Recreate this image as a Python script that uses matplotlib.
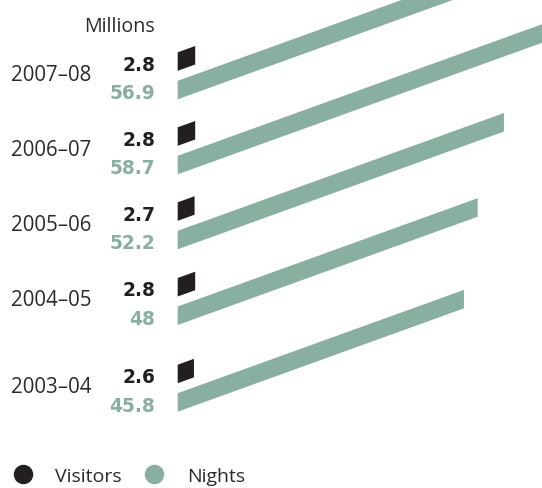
import matplotlib.pyplot as plt
from matplotlib.transforms import Affine2D

# tourism figures, newest year first
years = ['2007–08', '2006–07', '2005–06', '2004–05', '2003–04']
visitors = [2.8, 2.8, 2.7, 2.8, 2.6]
nights = [56.9, 58.7, 52.2, 48, 45.8]

dark = '#231f20'
green = '#88afa0'
grey = '#2a2a2a'

W, H = 542, 488
fig = plt.figure(figsize=(W / 100, H / 100), dpi=100)
ax = fig.add_axes([0, 0, 1, 1])
ax.set_xlim(0, W)
ax.set_ylim(H, 0)
ax.axis('off')

# bars are drawn in value units, then scaled and sheared so they rise to the right
x0 = 177.7        # where every bar starts
px = 6.25         # pixels per million
rise = 0.361      # slope of the slanted edges
shear = Affine2D.from_values(px, -rise * px, 0, 1, x0, 0) + ax.transData

# bottom edge (at the start) of each nights bar
base = [99.3, 174.3, 249.3, 325.0, 411.7]
thick = 18.5
gap = 10

n_centres = [b - thick / 2 for b in base]
v_centres = [b - thick - gap - thick / 2 for b in base]

for bars in (ax.barh(n_centres, nights, height=thick, left=0, color=green),
             ax.barh(v_centres, visitors, height=thick, left=0, color=dark)):
    for p in bars:
        p.set_transform(shear)
        p.set_clip_on(True)
        p.set_clip_box(ax.bbox)

reg = 'Open Sans'
val = 'DejaVu Sans'
for yr, v, n, b in zip(years, visitors, nights, base):
    ax.text(11, b - thick, yr, fontsize=14.8, family=reg, color=grey,
            ha='left', va='baseline')
    ax.text(155, b - thick - gap, f'{v:g}', fontsize=13.4, family=val,
            weight='bold', color=dark, ha='right', va='baseline')
    ax.text(155, b, f'{n:g}', fontsize=13.4, family=val,
            weight='bold', color=green, ha='right', va='baseline')

ax.text(155, 32, 'Millions', fontsize=14.2, family=reg, color=grey,
        ha='right', va='baseline')

# legend
ax.plot([23], [474], 'o', ms=13, color=dark, clip_on=False)
ax.text(55, 482, 'Visitors', fontsize=14, family=reg, color=grey,
        ha='left', va='baseline')
ax.plot([154], [474], 'o', ms=13, color=green, clip_on=False)
ax.text(187, 482, 'Nights', fontsize=14, family=reg, color=grey,
        ha='left', va='baseline')

fig.savefig('out.png', dpi=100)
